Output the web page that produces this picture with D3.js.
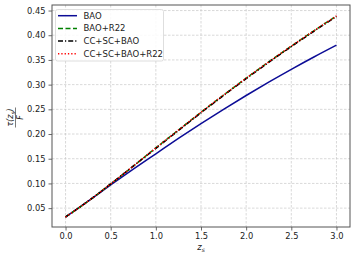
<!DOCTYPE html>
<html>
<head>
<meta charset="utf-8">
<script src="https://cdn.jsdelivr.net/npm/d3@7"></script>
<style>
  body { margin: 0; background: #fff; }
  svg { font-family: "DejaVu Sans", sans-serif; }
</style>
</head>
<body>
<div id="chart"></div>
<script>
// data
var zs = [0, 0.25, 0.5, 0.75, 1.0, 1.25, 1.5, 1.75, 2.0, 2.25, 2.5, 2.75, 3.0];
var bao = [0.032, 0.064, 0.097, 0.129, 0.160, 0.191, 0.221, 0.250, 0.278, 0.305, 0.331, 0.356, 0.380];
var baoR22 = [0.032, 0.064, 0.099, 0.135, 0.172, 0.208, 0.244, 0.279, 0.313, 0.346, 0.378, 0.409, 0.439];
var ccScBao = [0.032, 0.064, 0.099, 0.135, 0.171, 0.207, 0.243, 0.278, 0.312, 0.345, 0.377, 0.408, 0.438];
var ccScBaoR22 = [0.032, 0.064, 0.099, 0.135, 0.172, 0.208, 0.244, 0.279, 0.313, 0.346, 0.378, 0.409, 0.439];
var seriesNames = ['BAO', 'BAO+R22', 'CC+SC+BAO', 'CC+SC+BAO+R22'];
var xTicks = [0, 0.5, 1.0, 1.5, 2.0, 2.5, 3.0];
var yTicks = [0.05, 0.10, 0.15, 0.20, 0.25, 0.30, 0.35, 0.40, 0.45];

var width = 356, height = 259;
var margin = { left: 52, right: 6, top: 5, bottom: 32 };

var styles = [
  { color: '#0c0c96', dash: null },
  { color: '#008000', dash: '5,2.5' },
  { color: '#000000', dash: '5,2,1.2,2' },
  { color: '#ff0000', dash: '1.3,2' }
];
var allSeries = [bao, baoR22, ccScBao, ccScBaoR22];

var x = d3.scaleLinear().domain([-0.15, 3.15]).range([margin.left, width - margin.right]);
var y = d3.scaleLinear().domain([0.0118, 0.4612]).range([height - margin.bottom, margin.top]);

var svg = d3.select('#chart').append('svg')
  .attr('width', width)
  .attr('height', height);

// grid
svg.append('g').selectAll('line').data(xTicks).enter().append('line')
  .attr('x1', function(d){ return x(d) }).attr('x2', function(d){ return x(d) })
  .attr('y1', margin.top).attr('y2', height - margin.bottom)
  .attr('stroke', '#c8c8c8').attr('stroke-width', 0.7).attr('stroke-dasharray', '2.5,1.5');
svg.append('g').selectAll('line').data(yTicks).enter().append('line')
  .attr('y1', function(d){ return y(d) }).attr('y2', function(d){ return y(d) })
  .attr('x1', margin.left).attr('x2', width - margin.right)
  .attr('stroke', '#c8c8c8').attr('stroke-width', 0.7).attr('stroke-dasharray', '2.5,1.5');

// lines
var line = d3.line()
  .x(function(d){ return x(d[0]) })
  .y(function(d){ return y(d[1]) })
  .curve(d3.curveMonotoneX);

allSeries.forEach(function(s, i){
  svg.append('path')
    .datum(zs.map(function(z, j){ return [z, s[j]] }))
    .attr('d', line)
    .attr('fill', 'none')
    .attr('stroke', styles[i].color)
    .attr('stroke-width', 1.5)
    .attr('stroke-dasharray', styles[i].dash);
});

// axes
var xAxis = svg.append('g')
  .attr('transform', 'translate(0,' + (height - margin.bottom) + ')')
  .call(d3.axisBottom(x).tickValues(xTicks).tickFormat(d3.format('.1f')).tickSize(3.5).tickSizeOuter(0));
var yAxis = svg.append('g')
  .attr('transform', 'translate(' + margin.left + ',0)')
  .call(d3.axisLeft(y).tickValues(yTicks).tickFormat(d3.format('.2f')).tickSize(3.5).tickSizeOuter(0));
[xAxis, yAxis].forEach(function(a){
  a.selectAll('text').attr('font-size', 8.3).attr('fill', '#222')
    .attr('font-family', '"DejaVu Sans", sans-serif');
  a.selectAll('line').attr('stroke', '#444').attr('stroke-width', 0.8);
  a.select('.domain').remove();
});

svg.append('rect')
  .attr('x', margin.left).attr('y', margin.top)
  .attr('width', width - margin.left - margin.right)
  .attr('height', height - margin.top - margin.bottom)
  .attr('fill', 'none').attr('stroke', '#555').attr('stroke-width', 1);

// axis labels
var xl = svg.append('text')
  .attr('x', x(1.5)).attr('y', 250)
  .attr('text-anchor', 'middle')
  .attr('font-size', 8.5).attr('font-style', 'italic').attr('fill', '#222');
xl.append('tspan').text('z');
xl.append('tspan').attr('font-size', 6).attr('dy', 1.8).text('s');

var yl = svg.append('g')
  .attr('transform', 'translate(15.5,117.5) rotate(-90)');
var num = yl.append('text')
  .attr('x', 0).attr('y', -2.2)
  .attr('text-anchor', 'middle')
  .attr('font-size', 8).attr('font-style', 'italic').attr('fill', '#222');
num.append('tspan').text('τ(z');
num.append('tspan').attr('font-size', 5.6).attr('dy', 1.5).text('s');
num.append('tspan').attr('dy', -1.5).text(')');
yl.append('line').attr('x1', -10).attr('x2', 10).attr('y1', 0).attr('y2', 0)
  .attr('stroke', '#222').attr('stroke-width', 0.6);
yl.append('text')
  .attr('x', 0).attr('y', 7.8)
  .attr('text-anchor', 'middle')
  .attr('font-size', 8).attr('font-style', 'italic').attr('fill', '#222')
  .text('F');

// legend
var legend = svg.append('g');
legend.append('rect')
  .attr('x', 55.5).attr('y', 9.5).attr('width', 108).attr('height', 51.5)
  .attr('rx', 2).attr('fill', '#fff').attr('fill-opacity', 0.85)
  .attr('stroke', '#d6d6d6').attr('stroke-width', 0.8);
seriesNames.forEach(function(name, i){
  var cy = 15.7 + i * 12.7;
  legend.append('line')
    .attr('x1', 58).attr('x2', 77).attr('y1', cy).attr('y2', cy)
    .attr('stroke', styles[i].color).attr('stroke-width', 1.5)
    .attr('stroke-dasharray', styles[i].dash);
  legend.append('text')
    .attr('x', 83.5).attr('y', cy + 3)
    .attr('font-size', 8.5).attr('fill', '#222')
    .text(name);
});
</script>
</body>
</html>
